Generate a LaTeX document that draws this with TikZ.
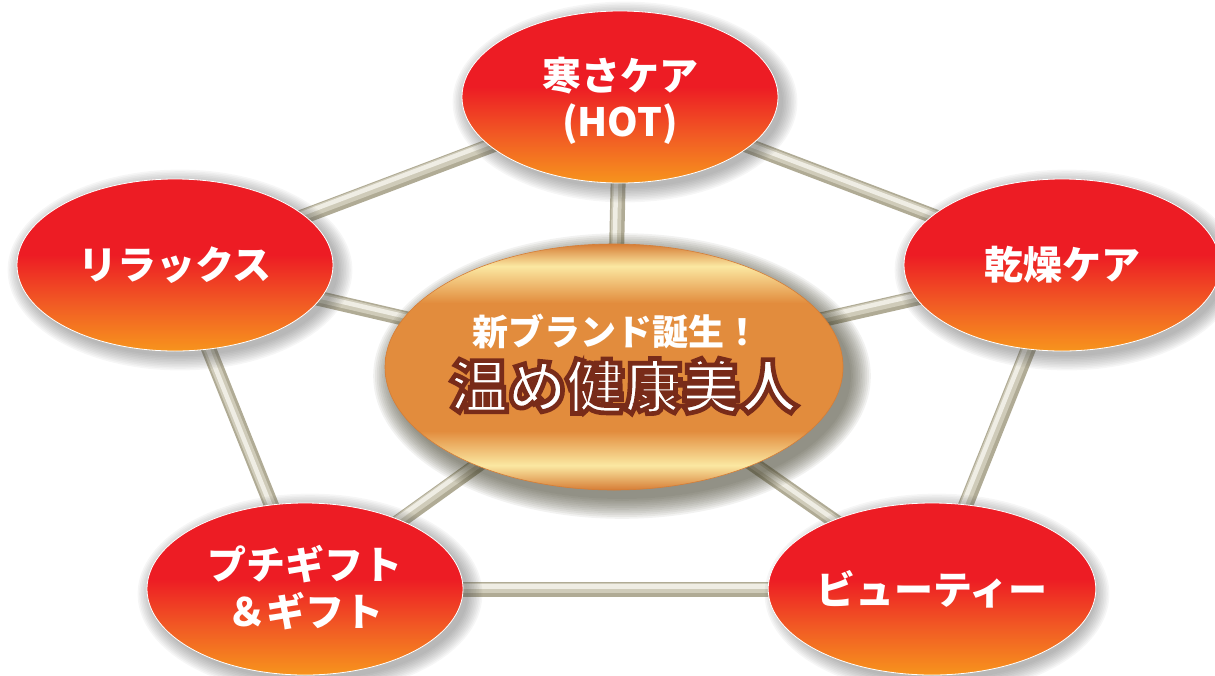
\documentclass[tikz,border=0pt]{standalone}
\usepackage{fontspec}
\setmainfont{Noto Sans CJK JP}
\newfontfamily\outlfont{Noto Sans CJK JP}[FakeBold=8]
\usetikzlibrary{shapes.geometric}
\definecolor{rd}{HTML}{ED1C24}
\definecolor{om}{HTML}{F15A24}
\definecolor{og}{HTML}{F7941D}
\definecolor{ce}{HTML}{D67D36}
\definecolor{cm}{HTML}{E28C3D}
\definecolor{cy}{HTML}{FBE8A2}
\definecolor{tubeDark}{HTML}{B0AB95}
\definecolor{tubeMid}{HTML}{CFCBB9}
\definecolor{tubeLight}{HTML}{EFEDE4}
\definecolor{shadowGray}{HTML}{505050}
\definecolor{shadowOlive}{HTML}{3E3C28}
\pgfdeclareverticalshading{redorange}{100bp}{color(0bp)=(og); color(25bp)=(og); color(39bp)=(om); color(53bp)=(rd); color(75bp)=(rd); color(100bp)=(rd)}
\pgfdeclareverticalshading{goldcentre}{100bp}{color(0bp)=(ce); color(25bp)=(ce); color(30bp)=(cy); color(37bp)=(cm); color(63bp)=(cm); color(70.5bp)=(cy); color(75bp)=(ce); color(100bp)=(ce)}
\pgfdeclarelayer{tubes}
\pgfdeclarelayer{shadows}
\pgfsetlayers{tubes,shadows,main}
\newcommand\outlinetext[1]{\special{pdf:bcolor [1 1 1] [0.47 0.17 0.10]}#1\special{pdf:ecolor}}
\tikzset{
  outer/.style={ellipse, minimum width=316pt, minimum height=172pt, inner sep=0pt,
    shade, shading=redorange, draw=white, line width=0.8pt, text=white, align=center,
    font=\bfseries\fontsize{39}{43}\selectfont},
  centre/.style={ellipse, minimum width=458pt, minimum height=246pt, inner sep=0pt,
    shade, shading=goldcentre, draw=ce, line width=0.6pt},
  tubebase/.style={line width=15pt, draw=tubeDark},
  tubemid/.style={line width=10pt, draw=tubeMid, transform canvas={xshift=-1pt,yshift=1.2pt}},
  tubetop/.style={line width=4.5pt, draw=tubeLight, transform canvas={xshift=-2pt,yshift=2.5pt}},
  smalltitle/.style={text=white, font=\bfseries\fontsize{36}{40}\selectfont, inner sep=0pt},
  bigtitle/.style={font=\outlfont\bfseries\fontsize{58}{62}\selectfont, inner sep=0pt}
}
\begin{document}
\begin{tikzpicture}[x=1pt,y=-1pt]
\useasboundingbox (0,0) rectangle (1215,675);
\node[centre] (c) at (614,367) {};
\node[outer] (top) at (620,97) {\raisebox{-6pt}[\height][\depth]{\begin{tabular}{@{}c@{}}寒さケア\\(HOT)\end{tabular}}};
\node[outer] (left) at (175,265) {リラックス};
\node[outer] (right) at (1062,265) {乾燥ケア};
\node[outer] (bl) at (305,589) {\raisebox{-3pt}[\height][\depth]{\begin{tabular}{@{}c@{}}プチギフト\\＆ギフト\end{tabular}}};
\node[outer] (br) at (932,589) {ビューティー};
\node[smalltitle] (t1) at (616,331) {新ブランド誕生！};
\node[bigtitle] (t2) at (624,386) {\outlinetext{温め健康美人}};
\begin{pgfonlayer}{tubes}
\foreach \a/\b in {top/left,top/right,left/bl,right/br,bl/br,c/top,c/left,c/right,c/bl,c/br}{
  \draw[tubebase] (\a.center) -- (\b.center);
  \draw[tubemid] (\a.center) -- (\b.center);
  \draw[tubetop] (\a.center) -- (\b.center);
}
\end{pgfonlayer}
\begin{pgfonlayer}{shadows}
\foreach \n in {top,left,right,bl,br}{
  \foreach \k in {0,...,9}{
    \fill[shadowGray, opacity=0.05] ([xshift=5pt,yshift=-5pt]\n.center) ellipse ({158+1.6*\k} and {86+1.6*\k});
  }
}
\foreach \k in {0,...,11}{
  \fill[shadowOlive, opacity=0.065] ([xshift=8pt,yshift=-9pt]c.center) ellipse ({229+1.8*\k} and {123+1.8*\k});
}
\end{pgfonlayer}
\end{tikzpicture}
\end{document}
